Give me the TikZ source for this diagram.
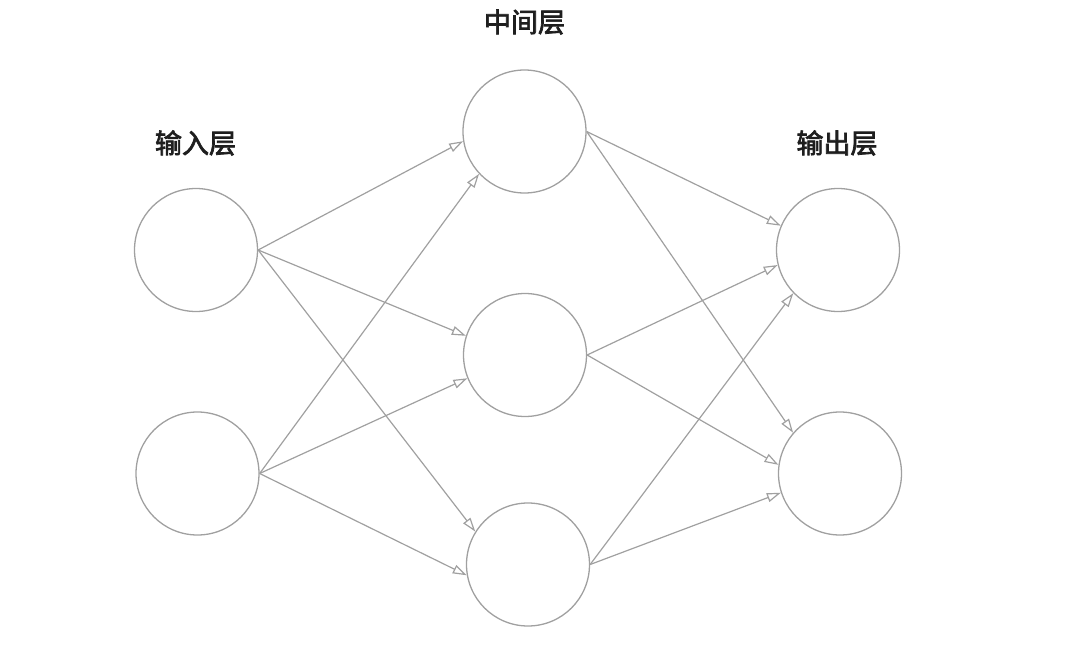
\documentclass[tikz,border=0pt]{standalone}
\usepackage{fontspec}
\newfontfamily\cjk[FakeBold=2.6]{Noto Sans CJK SC}
\usetikzlibrary{arrows.meta}
\definecolor{linegray}{RGB}{160,160,160}
\definecolor{txt}{RGB}{30,30,30}
\begin{document}
\begin{tikzpicture}[x=1pt,y=-1pt,
  neuron/.style={circle,draw=linegray,line width=1.3pt,minimum size=123pt,inner sep=0pt},
  conn/.style={draw=linegray,line width=1.2pt,-{Triangle[open,length=14pt,width=9pt]}},
  layerlabel/.style={font=\cjk\fontsize{27}{32}\selectfont,text=txt}]
\useasboundingbox (0,0) rectangle (1080,648);
\node[neuron] (i1) at (196,250) {};
\node[neuron] (i2) at (197.5,473.5) {};
\node[neuron] (m1) at (524.5,131.5) {};
\node[neuron] (m2) at (525,355) {};
\node[neuron] (m3) at (528,564.5) {};
\node[neuron] (o1) at (838,250) {};
\node[neuron] (o2) at (840,473.5) {};
\node[layerlabel] (l1) at (195.5,143) {输入层};
\node[layerlabel] (l2) at (524.5,22) {中间层};
\node[layerlabel] (l3) at (837,143) {输出层};
\draw[conn] (i1.east) -- (m1.189);
\draw[conn] (i1.east) -- (m2.162);
\draw[conn] (i1.east) -- (m3.148);
\draw[conn] (i2.east) -- (m1.223);
\draw[conn] (i2.east) -- (m2.202);
\draw[conn] (i2.east) -- (m3.190);
\draw[conn] (m1.east) -- (o1.157);
\draw[conn] (m1.east) -- (o2.139);
\draw[conn] (m2.east) -- (o1.194);
\draw[conn] (m2.east) -- (o2.172);
\draw[conn] (m3.east) -- (o1.224);
\draw[conn] (m3.east) -- (o2.198);
\end{tikzpicture}
\end{document}
